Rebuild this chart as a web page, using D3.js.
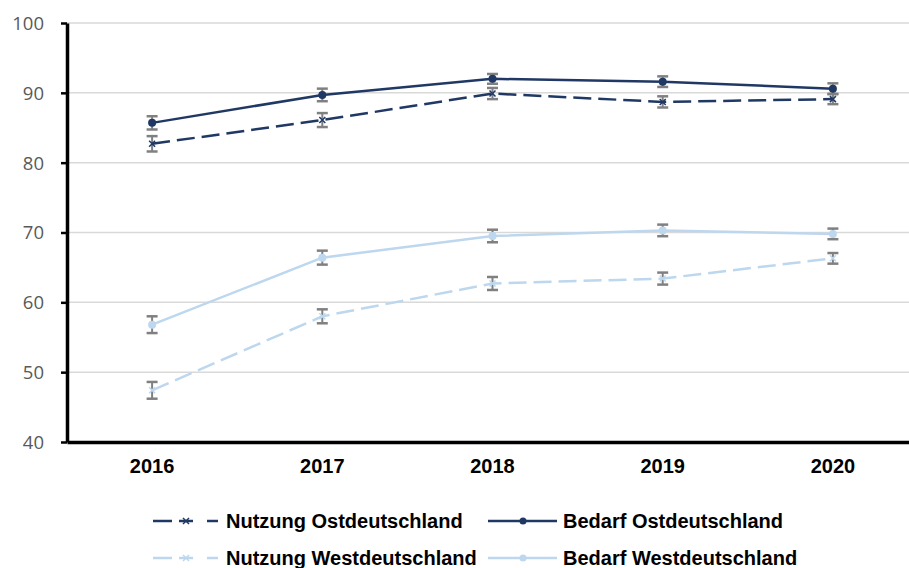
<!DOCTYPE html>
<html>
<head>
<meta charset="utf-8">
<script src="https://cdn.jsdelivr.net/npm/d3@7"></script>
<style>
  body { margin: 0; background: #fff; }
  svg { display: block; }
  .ytick text { font-family: "Open Sans", sans-serif; font-size: 18.5px; fill: #595959; }
  .xtick text { font-family: "Liberation Sans", Arial, sans-serif; font-size: 20px; font-weight: bold; fill: #000; }
  .legend text { font-family: "Liberation Sans", Arial, sans-serif; font-size: 20px; font-weight: bold; fill: #000; }
</style>
</head>
<body>
<svg id="chart" width="909" height="568"></svg>
<script>
// data
const years = ['2016', '2017', '2018', '2019', '2020'];
const bedarfOst     = [85.7, 89.7, 92.0, 91.6, 90.6];
const nutzungOst    = [82.7, 86.1, 89.9, 88.7, 89.1];
const bedarfWest    = [56.8, 66.4, 69.5, 70.3, 69.8];
const nutzungWest   = [47.4, 58.0, 62.7, 63.4, 66.3];
// error bar half widths
const errBedarfOst  = [0.95, 0.9, 0.7, 0.76, 0.76];
const errNutzungOst = [1.1, 1.0, 0.8, 0.8, 0.72];
const errBedarfWest = [1.2, 1.0, 0.9, 0.83, 0.76];
const errNutzungWest= [1.2, 1.0, 0.93, 0.86, 0.76];
const yTicks = [40, 50, 60, 70, 80, 90, 100];

const series = [
    { name: 'Nutzung Ostdeutschland',  values: nutzungOst,  err: errNutzungOst,  colour: '#203864', dashed: true,  marker: 'x' },
    { name: 'Bedarf Ostdeutschland',   values: bedarfOst,   err: errBedarfOst,   colour: '#203864', dashed: false, marker: 'circle' },
    { name: 'Nutzung Westdeutschland', values: nutzungWest, err: errNutzungWest, colour: '#bdd7ee', dashed: true,  marker: 'x' },
    { name: 'Bedarf Westdeutschland',  values: bedarfWest,  err: errBedarfWest,  colour: '#bdd7ee', dashed: false, marker: 'circle' }
];

const svg = d3.select('#chart');
const plotLeft = 67, plotTop = 23, plotBottom = 442;

const x = d3.scaleBand().domain(years).range([plotLeft, 918]);
const y = d3.scaleLinear().domain([40, 100]).range([plotBottom, plotTop]);
const cx = d => x(d) + x.bandwidth() / 2;

// gridlines
svg.append('g').selectAll('line').data(yTicks.slice(1)).join('line')
    .attr('x1', plotLeft).attr('x2', 909)
    .attr('y1', d => y(d)).attr('y2', d => y(d))
    .attr('stroke', '#d9d9d9').attr('stroke-width', 1.5);

// y axis
const yAxis = svg.append('g').attr('class', 'ytick')
    .attr('transform', `translate(${plotLeft},0)`)
    .call(d3.axisLeft(y).tickValues(yTicks).tickSize(6).tickPadding(17).tickSizeOuter(0));
yAxis.select('.domain').attr('stroke', '#000').attr('stroke-width', 3.5);
yAxis.selectAll('.tick line').attr('stroke', '#000').attr('stroke-width', 2.5);
yAxis.selectAll('.tick text').attr('dy', '0.35em');

// x axis
const xAxis = svg.append('g').attr('class', 'xtick')
    .attr('transform', `translate(0,${plotBottom})`)
    .call(d3.axisBottom(x).tickSize(0).tickPadding(17));
xAxis.select('.domain').attr('stroke', '#000').attr('stroke-width', 3.5);

const line = d3.line().x((d, i) => cx(years[i])).y(d => y(d));

// error bars first, lines on top
series.forEach(s => {
    const g = svg.append('g');
    s.values.forEach((v, i) => {
        const px = cx(years[i]), y0 = y(v - s.err[i]), y1 = y(v + s.err[i]);
        g.append('line').attr('x1', px).attr('x2', px).attr('y1', y0).attr('y2', y1)
            .attr('stroke', '#808080').attr('stroke-width', 2);
        [y0, y1].forEach(yy => g.append('line')
            .attr('x1', px - 5.5).attr('x2', px + 5.5).attr('y1', yy).attr('y2', yy)
            .attr('stroke', '#808080').attr('stroke-width', 2.5));
    });
});

function drawMarker(g, s, px, py, r) {
    if (s.marker === 'circle') {
        g.append('circle').attr('cx', px).attr('cy', py).attr('r', r).attr('fill', s.colour);
    } else {
        g.append('path')
            .attr('d', `M${px - r},${py - r}L${px + r},${py + r}M${px - r},${py + r}L${px + r},${py - r}`)
            .attr('stroke', s.colour).attr('stroke-width', 1.5);
    }
}

series.forEach(s => {
    const g = svg.append('g');
    g.append('path').datum(s.values)
        .attr('d', line)
        .attr('fill', 'none')
        .attr('stroke', s.colour)
        .attr('stroke-width', 2.5)
        .attr('stroke-dasharray', s.dashed ? '18,7' : null);
    s.values.forEach((v, i) => drawMarker(g, s, cx(years[i]), y(v), s.marker === 'circle' ? 4 : 3));
});

// legend: dashed entries in the left column, solid ones on the right
const legendPos = [[153, 521], [488, 521], [153, 558], [488, 558]];
const legend = svg.append('g').attr('class', 'legend');
series.forEach((s, i) => {
    const [lx, ly] = legendPos[i];
    const g = legend.append('g').attr('transform', `translate(${lx},${ly})`);
    if (s.dashed) {
        [[0, 19], [26, 40], [54, 65]].forEach(([a, b]) => g.append('line')
            .attr('x1', a).attr('x2', b).attr('y1', 0).attr('y2', 0)
            .attr('stroke', s.colour).attr('stroke-width', 2.5));
        drawMarker(g, s, 33, 0, 3);
        g.append('text').attr('x', 73).attr('y', 0).attr('dy', '0.35em').text(s.name);
    } else {
        g.append('line').attr('x1', 0).attr('x2', 69).attr('y1', 0).attr('y2', 0)
            .attr('stroke', s.colour).attr('stroke-width', 2.5);
        drawMarker(g, s, 35, 0, 3.5);
        g.append('text').attr('x', 75).attr('y', 0).attr('dy', '0.35em').text(s.name);
    }
});
</script>
</body>
</html>
